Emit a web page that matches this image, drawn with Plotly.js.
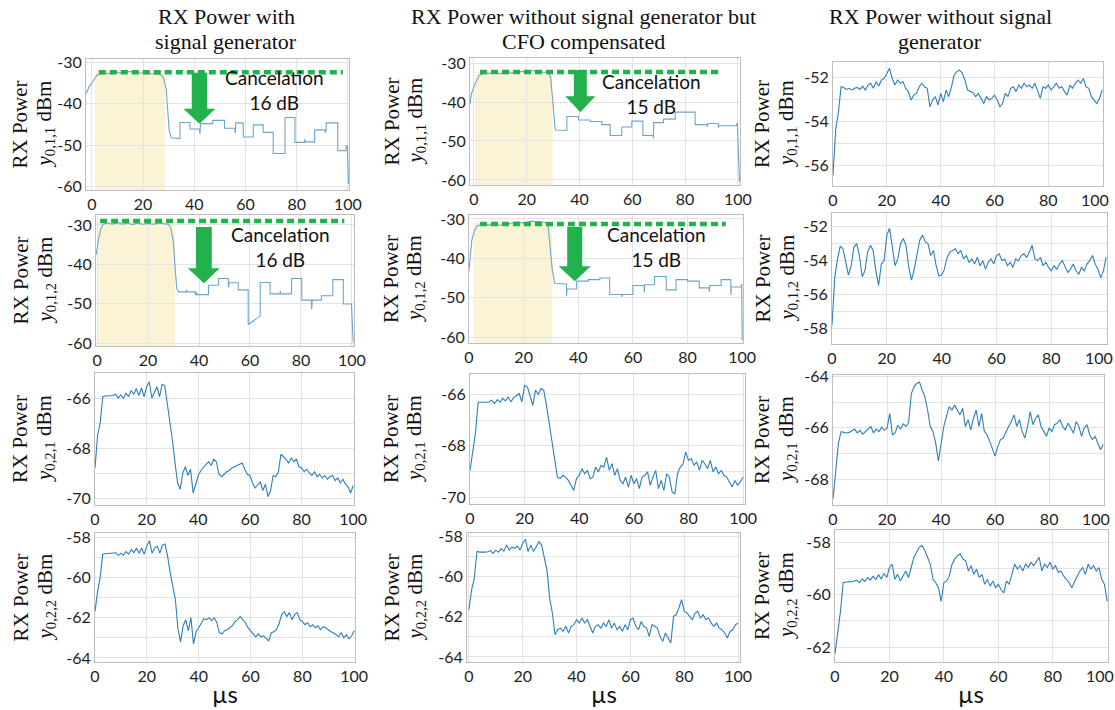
<!DOCTYPE html>
<html><head><meta charset="utf-8">
<script src="https://cdn.plot.ly/plotly-3.0.1.min.js"></script>
<style>html,body{margin:0;padding:0;background:#fff}</style>
</head><body><div id="chart" style="width:1115px;height:710px"></div>
<script>
// ---------- DATA ----------
const colTitleLines = [['RX Power with', 'signal generator'], ['RX Power without signal generator but', 'CFO compensated'], ['RX Power without signal', 'generator']];
const ySubs = ['0,1,1', '0,1,1', '0,1,1', '0,1,2', '0,1,2', '0,1,2', '0,2,1', '0,2,1', '0,2,1', '0,2,2', '0,2,2', '0,2,2'];
const xTicks = [0, 20, 40, 60, 80, 100];
const xTickText = ['0', '20', '40', '60', '80', '100'];
const yTicksTop = [-30, -40, -50, -60];
const yTicks3r1 = [-52, -54, -56];
const yTicks3r2 = [-52, -54, -56, -58];
const yTicksR3 = [-66, -68, -70];
const yTicks3r3 = [-64, -66, -68];
const yTicksR4 = [-58, -60, -62, -64];
const yTicks3r4 = [-58, -60, -62];
const cancelLabels = ['Cancelation<br>16 dB', 'Cancelation<br>15 dB', 'Cancelation<br>16 dB', 'Cancelation<br>15 dB'];

const t = [...Array(101).keys()]; // time axis in µs

// [µs, dBm] pairs, step-like traces (rows 1-2, columns 1-2)
const gen011 = [[-2.3,-37.6],[-1.5,-36.5],[-1,-35.8],[0,-35],[1,-34],[2,-33.1],[3,-32.8],[6,-32.7],[10,-32.6],[13,-32.4],[15,-32.2],[18,-32.5],[22,-32.7],[25,-32.8],[27,-33.0],[28,-33.8],[29,-36.5],[29.6,-41.5],[30.2,-46.5],[31,-48.2],[32.5,-48.3],[34.4,-48.4],[34.4,-44.5],[38.3,-44.5],[38.3,-46.1],[42.0,-46.1],[42.2,-47.3],[42.4,-44.8],[47.2,-44.8],[47.2,-44.0],[51.8,-44.0],[51.8,-45.9],[55.8,-45.9],[56.0,-47.1],[56.2,-44.6],[59.1,-44.6],[59.1,-48.0],[63,-48.0],[63,-45.1],[66.9,-45.1],[66.9,-46.9],[70.8,-46.9],[70.8,-52.0],[75.4,-52.0],[75.4,-43.3],[79.3,-43.3],[79.3,-49.3],[83.0,-49.3],[83.2,-48.6],[83.4,-49.2],[87,-49.2],[87,-46.3],[91.0,-46.3],[91.1,-47.0],[91.5,-46.3],[91.5,-44.6],[96,-44.6],[96,-51.3],[99.2,-51.3],[99.4,-50.2],[99.8,-50.2],[100.2,-59.3]];
const gen012 = [[-0.3,-37.5],[0.5,-34],[1.5,-31],[2.5,-29.8],[4,-29.5],[6,-29.8],[8,-29.4],[10,-29.8],[12,-29.5],[14,-29.9],[16,-29.5],[18,-29.8],[20,-29.6],[22,-29.8],[24,-29.5],[26,-29.7],[28,-29.8],[29,-30.8],[30,-34.5],[30.7,-41.5],[31.3,-46.3],[32,-47.0],[35,-47.0],[35.1,-46.4],[35.3,-47.0],[38.6,-47.0],[38.6,-47.7],[39,-47.7],[39.1,-47.1],[39.3,-47.7],[43.7,-47.7],[43.7,-45.3],[47.7,-45.3],[47.7,-43.6],[51.5,-43.6],[51.5,-44.7],[51.6,-45.9],[51.8,-44.7],[55.4,-44.7],[55.4,-46.5],[59.3,-46.5],[59.3,-55.3],[61,-54.6],[63,-53.6],[64,-53.1],[64,-44.6],[67.9,-44.6],[67.9,-47.5],[71.8,-47.5],[71.9,-46.8],[72.1,-47.5],[76.3,-47.5],[76.3,-43.6],[80.3,-43.6],[80.3,-49.1],[84.1,-49.1],[84.2,-51.4],[84.4,-49.1],[88,-49.1],[88,-48.0],[92.5,-48.0],[92.5,-43.9],[96.6,-43.9],[96.6,-50.1],[99.8,-50.1],[100.5,-59.8]];
const cfo011 = [[-1.5,-40.5],[-1,-38],[0,-36],[1,-34.3],[2,-33.1],[4,-32.6],[8,-32.6],[12,-32.7],[16,-32.4],[19,-32.2],[21,-31.9],[23,-32.0],[25,-32.3],[28,-32.4],[29,-33.5],[29.7,-38.5],[30.3,-44.5],[30.8,-47.2],[35.2,-47.3],[35.2,-43.7],[39.6,-43.7],[39.6,-44.6],[44,-44.6],[44,-45.0],[48.5,-45.0],[48.5,-45.8],[51.6,-45.8],[51.6,-48.6],[56,-48.6],[56,-46.4],[59.8,-46.4],[59.8,-44.9],[64,-44.9],[64,-48.6],[67.9,-48.6],[68,-49.3],[68.1,-45.3],[71.8,-45.3],[71.8,-44.4],[76.3,-44.4],[76.3,-42.6],[83.8,-42.6],[83.8,-45.8],[88.3,-45.8],[88.4,-46.4],[88.5,-45.5],[92.6,-45.5],[92.7,-46.6],[92.8,-46.1],[99.3,-46.1],[99.8,-45.4],[100.6,-60.5]];
const cfo012 = [[0,-43],[0.5,-38],[1,-35.5],[2,-33],[3,-31.7],[6,-31.5],[10,-31.6],[14,-31.4],[17,-30.8],[20,-31.0],[23,-30.6],[26,-30.7],[28,-30.9],[29,-32],[29.7,-37],[30.5,-43],[31.4,-46.4],[35.7,-46.5],[35.7,-49.6],[35.9,-47.8],[39.4,-47.8],[39.4,-45.8],[43.6,-45.8],[43.6,-45.4],[47.9,-45.4],[47.9,-45.0],[51.5,-45.0],[51.5,-49.2],[55.9,-49.2],[56,-49.8],[56.1,-49.2],[60,-49.2],[60,-46.9],[64.1,-46.9],[64.2,-48.7],[64.3,-46.7],[67.9,-46.7],[67.9,-44.6],[72.2,-44.6],[72.2,-48.0],[75.8,-48.0],[75.8,-45.4],[80,-45.4],[80,-45.8],[84.3,-45.8],[84.3,-47.5],[87.9,-47.5],[88,-48.5],[88.1,-46.9],[92.3,-46.9],[92.3,-45.4],[95.8,-45.4],[95.9,-49.3],[96,-47.3],[99.6,-47.3],[99.8,-46.5],[100,-60.8]];

// dBm at t = 0..100 µs (noisy traces)
const gen021 = [-68.8,-67.5,-67.0,-65.95,-65.92,-65.92,-65.91,-65.90,-65.85,-66.00,-65.88,-66.02,-65.80,-65.95,-65.70,-65.85,-65.62,-65.90,-65.60,-65.95,-65.55,-65.35,-66.00,-65.75,-65.55,-65.95,-65.45,-65.50,-66.20,-66.95,-67.70,-68.60,-69.40,-69.65,-69.00,-68.75,-69.10,-68.85,-69.80,-69.45,-69.10,-68.90,-68.75,-68.65,-68.55,-68.70,-68.45,-68.55,-69.05,-69.15,-69.05,-68.95,-68.90,-68.80,-68.75,-68.70,-68.65,-68.60,-68.85,-69.05,-69.10,-69.40,-69.60,-69.45,-69.35,-69.70,-69.45,-69.95,-69.70,-69.10,-69.15,-68.95,-68.25,-68.35,-68.45,-68.60,-68.40,-68.55,-68.45,-68.75,-68.80,-68.95,-68.85,-69.00,-69.10,-68.95,-69.15,-69.05,-69.20,-69.10,-69.25,-69.15,-69.10,-69.30,-69.20,-69.40,-69.25,-69.45,-69.55,-69.80,-69.50];
const gen022 = [-61.7,-60.7,-60.0,-58.85,-58.83,-58.82,-58.82,-58.80,-58.78,-58.92,-58.80,-58.90,-58.72,-58.85,-58.62,-58.78,-58.55,-58.80,-58.55,-58.85,-58.45,-58.18,-58.80,-58.55,-58.45,-58.80,-58.40,-58.35,-58.95,-59.75,-60.40,-61.10,-62.55,-63.20,-62.40,-62.10,-62.65,-62.00,-63.30,-62.70,-62.50,-62.25,-62.05,-62.10,-62.00,-62.15,-62.00,-62.25,-62.75,-62.80,-62.65,-62.60,-62.50,-62.40,-62.20,-62.10,-61.95,-62.10,-62.25,-62.50,-62.65,-62.85,-62.95,-62.80,-62.95,-62.90,-63.05,-63.15,-62.75,-62.70,-62.60,-62.30,-61.85,-61.70,-61.95,-61.75,-62.10,-61.85,-61.75,-62.10,-62.20,-62.35,-62.25,-62.45,-62.35,-62.50,-62.40,-62.60,-62.45,-62.50,-62.60,-62.70,-62.75,-62.85,-62.95,-62.75,-63.00,-62.85,-63.05,-62.90,-62.65];
const cfo021 = [-68.96,-68.20,-67.50,-66.30,-66.31,-66.31,-66.30,-66.28,-66.22,-66.35,-66.20,-66.30,-66.15,-66.25,-66.10,-66.28,-66.12,-66.05,-65.96,-66.29,-65.64,-65.70,-66.09,-66.42,-65.83,-66.00,-65.77,-65.83,-66.42,-67.10,-67.78,-68.57,-69.22,-69.28,-69.15,-69.22,-69.35,-69.54,-69.74,-69.28,-69.15,-68.89,-69.09,-68.96,-69.28,-69.22,-68.83,-69.02,-68.76,-68.83,-68.44,-68.96,-68.70,-69.15,-68.89,-69.35,-69.48,-69.22,-69.61,-69.15,-69.48,-69.28,-69.67,-69.22,-69.15,-69.02,-69.54,-69.22,-68.96,-69.67,-69.35,-69.74,-69.09,-69.22,-69.80,-69.87,-69.09,-68.83,-68.70,-68.24,-68.57,-68.50,-68.76,-68.63,-68.96,-68.57,-68.70,-68.89,-68.57,-69.02,-68.83,-69.09,-68.96,-69.15,-69.22,-69.41,-69.61,-69.35,-69.54,-69.41,-69.22];
const cfo022 = [-61.66,-60.67,-60.10,-58.77,-58.80,-58.81,-58.80,-58.78,-58.72,-58.86,-58.70,-58.80,-58.62,-58.75,-58.45,-58.70,-58.55,-58.61,-58.50,-58.70,-58.36,-58.16,-58.77,-58.45,-58.77,-58.53,-58.28,-58.45,-59.02,-59.68,-61.08,-61.82,-62.90,-62.65,-62.57,-62.73,-62.48,-62.81,-62.48,-62.40,-62.15,-62.32,-62.07,-62.32,-62.15,-62.48,-62.81,-62.48,-62.40,-62.57,-62.32,-62.48,-62.15,-62.57,-62.32,-62.65,-62.48,-62.73,-62.40,-62.65,-62.15,-62.07,-62.48,-62.65,-62.24,-62.48,-62.57,-62.98,-62.40,-62.48,-62.57,-62.98,-63.23,-62.81,-63.06,-63.31,-61.99,-61.91,-61.58,-61.16,-61.74,-61.82,-61.99,-62.15,-61.82,-61.74,-62.07,-61.91,-62.15,-62.07,-62.32,-62.48,-62.32,-62.57,-62.65,-62.81,-63.06,-62.73,-62.65,-62.40,-62.32];
const nogen011 = [-56.46,-54.40,-53.60,-52.43,-52.46,-52.55,-52.50,-52.58,-52.50,-52.46,-52.55,-52.40,-52.58,-52.35,-52.27,-52.50,-52.20,-52.40,-52.12,-52.05,-51.82,-51.59,-52.05,-52.35,-52.12,-52.27,-52.20,-52.50,-52.65,-53.03,-52.81,-52.73,-52.43,-52.27,-52.43,-52.50,-53.34,-53.03,-52.88,-53.26,-52.73,-53.11,-52.58,-52.88,-52.43,-51.89,-51.74,-51.67,-51.79,-52.12,-52.58,-52.65,-52.70,-52.88,-52.73,-52.96,-53.19,-52.88,-53.03,-52.96,-52.81,-53.03,-53.34,-53.19,-52.73,-52.88,-52.50,-52.43,-52.65,-52.35,-52.50,-52.27,-52.43,-52.35,-52.50,-52.27,-52.58,-52.96,-52.43,-52.50,-52.35,-52.58,-52.43,-52.27,-52.50,-52.43,-52.65,-52.81,-52.35,-52.50,-52.27,-52.12,-52.27,-52.05,-52.43,-52.50,-52.88,-53.03,-53.19,-52.96,-52.58];
const nogen012 = [-57.8,-55.0,-53.9,-53.15,-53.3,-54.2,-54.85,-54.3,-53.2,-53.0,-53.7,-54.95,-54.6,-53.5,-53.1,-53.4,-54.6,-55.45,-54.2,-54.0,-52.5,-52.1,-53.1,-54.3,-53.9,-53.0,-52.7,-53.1,-54.4,-55.15,-54.5,-53.6,-52.8,-52.5,-52.9,-53.0,-53.7,-53.4,-54.3,-54.9,-54.85,-54.5,-53.8,-53.5,-53.4,-53.3,-53.6,-53.4,-53.9,-53.7,-54.1,-53.9,-54.2,-53.8,-54.3,-54.0,-54.5,-54.1,-53.9,-54.2,-53.7,-53.6,-54.0,-53.9,-54.3,-54.1,-54.4,-53.9,-54.0,-53.7,-53.6,-53.8,-53.5,-53.1,-53.9,-54.0,-53.8,-54.3,-54.1,-54.4,-54.6,-54.3,-54.5,-54.2,-54.0,-54.4,-54.7,-54.5,-54.2,-54.6,-54.8,-54.4,-54.6,-54.2,-54.0,-53.7,-54.2,-54.5,-55.0,-54.6,-53.8];
const nogen021 = [-68.77,-67.55,-66.60,-66.15,-66.18,-66.20,-66.18,-66.12,-66.05,-66.20,-66.10,-66.25,-66.15,-66.05,-65.95,-66.20,-66.05,-66.15,-65.98,-66.10,-66.02,-65.44,-66.27,-66.20,-65.90,-66.05,-65.85,-65.95,-65.80,-64.67,-64.41,-64.28,-64.22,-64.54,-64.79,-65.31,-65.95,-66.14,-66.59,-67.29,-66.59,-65.95,-65.56,-65.18,-65.31,-65.12,-65.31,-65.50,-65.24,-65.95,-65.69,-66.08,-65.63,-65.31,-65.95,-65.44,-66.14,-66.27,-66.53,-66.78,-67.10,-66.72,-66.46,-66.40,-66.14,-65.95,-65.76,-65.50,-65.95,-65.69,-66.14,-66.40,-65.95,-65.37,-65.88,-65.63,-65.50,-65.95,-66.14,-66.33,-66.01,-66.14,-65.88,-65.82,-65.69,-65.95,-66.08,-65.82,-66.01,-66.21,-65.76,-65.95,-66.33,-66.01,-65.88,-66.27,-66.46,-66.33,-66.59,-66.85,-66.65];
const nogen022 = [-62.26,-61.42,-60.65,-59.55,-59.52,-59.50,-59.52,-59.48,-59.45,-59.55,-59.40,-59.50,-59.35,-59.45,-59.30,-59.42,-59.25,-59.40,-59.20,-59.35,-58.97,-58.84,-59.42,-59.23,-59.48,-59.29,-59.10,-59.35,-58.97,-58.58,-58.39,-58.19,-58.13,-58.32,-58.58,-58.84,-59.42,-59.55,-59.74,-60.26,-59.55,-59.48,-59.29,-58.84,-58.65,-58.52,-58.45,-58.65,-58.71,-59.10,-58.90,-59.23,-59.03,-59.35,-59.23,-59.61,-59.42,-59.68,-59.48,-59.74,-59.61,-59.81,-59.94,-59.48,-59.61,-59.23,-58.84,-59.03,-58.90,-59.10,-58.84,-58.97,-58.77,-58.90,-58.71,-58.58,-59.10,-58.84,-58.97,-58.77,-59.03,-58.90,-59.16,-59.10,-59.29,-59.42,-59.55,-59.74,-59.48,-59.29,-59.10,-58.97,-59.23,-58.84,-59.03,-58.90,-59.10,-58.97,-59.42,-59.61,-60.26];

// ---------- LAYOUT GEOMETRY ----------
const W = 1115, H = 710;
// panels row-major; box = [left,right,top,bottom] px
const panels = [
  {box:[86,349,59,190],  xr:[-2.3,100.4], yr:[-60.8,-29.2], yt:yTicksTop, pairs:gen011},
  {box:[470,740,58,185], xr:[-1.5,100.8], yr:[-61.3,-28.7], yt:yTicksTop, pairs:cfo011},
  {box:[833,1103,62,186],xr:[0,100.3],    yr:[-56.95,-51.3],yt:yTicks3r1, y:nogen011, minor:true, edge:true},
  {box:[96,354,215,346], xr:[-0.4,100.8], yr:[-60.76,-27.46],yt:yTicksTop, pairs:gen012},
  {box:[469,743,215,343],xr:[0,100.3],    yr:[-61.5,-29.0], yt:yTicksTop, pairs:cfo012},
  {box:[832,1107,213,344],xr:[0,100.3],   yr:[-58.9,-51.2], yt:yTicks3r2, y:nogen012, minor:true, edge:true},
  {box:[95,354,373,505], xr:[0,100.3],    yr:[-70.28,-65.0],yt:yTicksR3, y:gen021, minor:true},
  {box:[470,745,374,504],xr:[0,100.7],    yr:[-70.27,-65.2],yt:yTicksR3, y:cfo021, minor:true},
  {box:[833,1104,375,505],xr:[0,100.3],   yr:[-69.0,-63.95],yt:yTicks3r3, y:nogen021, minor:true, edge:true},
  {box:[95,355,533,662], xr:[0,100.3],    yr:[-64.2,-57.8], yt:yTicksR4, y:gen022, minor:true},
  {box:[467,740,533,662],xr:[-0.7,100.7], yr:[-64.25,-57.85],yt:yTicksR4, y:cfo022, minor:true},
  {box:[835,1108,530,662],xr:[0,100.3],   yr:[-62.57,-57.54],yt:yTicks3r4, y:nogen022, minor:true, edge:true}
];
// decorations on the cancellation panels: panel index, shaded span, dotted level, arrow, label
const deco = [
  {p:0, band:[1.2,28.5,-31.9], dot:[2.7,98,-32.4],  arrow:[42.0,3.0,6.25,-32.5,-41.2,-44.8], lab:[71.4,-36.7]},
  {p:3, band:[0.5,30.6,-29.2], dot:[1.2,97,-29.0],  arrow:[41.9,3.1,6.25,-30.5,-41.0,-44.8], lab:[71.8,-35.5]},
  {p:1, band:[0.4,29.8,-32.2], dot:[2.3,93.8,-32.3],arrow:[40.3,2.45,5.65,-31.8,-38.5,-42.6], lab:[67.3,-37.9]},
  {p:4, band:[1.5,30.5,-31.0], dot:[4.0,94,-31.3],  arrow:[38.7,2.75,5.85,-32.0,-42.0,-45.8], lab:[68.8,-37.2]}
];
const labelOrder = [0, 2, 1, 3];

const tickFont = {family:'Lato, "Open Sans", sans-serif', size:16, color:'#1e1e1e'};
const serif = '"Liberation Serif", "Times New Roman", serif';
const green = '#22b14c';

const layout = {width:W, height:H, margin:{l:0,r:0,t:0,b:0}, showlegend:false,
  paper_bgcolor:'#fff', plot_bgcolor:'#fff', annotations:[], shapes:[]};
const data = [];

panels.forEach((P, i) => {
  const k = i + 1, s = k === 1 ? '' : String(k);
  const [l, r, tp, b] = P.box;
  const last = xTickText.length - 1;
  // right-column panels sit at the page edge: their last label is drawn separately, nudged inward
  const xtext = P.edge ? xTickText.map((v, j) => j === last ? '' : v) : xTickText;
  layout['xaxis' + s] = {domain:[l / W, r / W], range:P.xr, anchor:'y' + s,
    tickmode:'array', tickvals:xTicks, ticktext:xtext, tickfont:tickFont,
    showgrid:true, gridcolor:'#e3e3e3', gridwidth:1, zeroline:false,
    showline:true, mirror:true, linecolor:'#bdbdbd', linewidth:1, ticks:'', fixedrange:true};
  if (P.edge) {
    layout.annotations.push({xref:'x' + s, yref:'paper', x:xTicks[last], y:1 - (b + 13) / H, xshift:-7,
      text:xTickText[last], showarrow:false, xanchor:'center', yanchor:'middle', font:tickFont});
  }
  const ya = {domain:[1 - b / H, 1 - tp / H], range:P.yr, anchor:'x' + s,
    tickmode:'array', tickvals:P.yt, ticktext:P.yt.map(v => '-' + Math.abs(v)), tickfont:tickFont,
    showgrid:true, gridcolor:'#e3e3e3', gridwidth:1, zeroline:false,
    showline:true, mirror:true, linecolor:'#bdbdbd', linewidth:1, ticks:'', fixedrange:true};
  if (P.minor) ya.minor = {tickmode:'linear', tick0:0, dtick:1, showgrid:true, gridcolor:'#e3e3e3', ticks:''};
  layout['yaxis' + s] = ya;

  if (P.pairs) {
    data.push({x:P.pairs.map(d => d[0]), y:P.pairs.map(d => d[1]), xaxis:'x' + s, yaxis:'y' + s,
      mode:'lines', line:{color:'#6fa4cb', width:1.1}, hoverinfo:'skip'});
  } else {
    data.push({x:t, y:P.y, xaxis:'x' + s, yaxis:'y' + s,
      mode:'lines', line:{color:'#2f7fb8', width:1.1}, hoverinfo:'skip'});
  }

  const col = i % 3;
  const cy = 1 - ((tp + b) / 2) / H;
  const xRX = [20, 391, 762][col], xY = [45, 415, 787][col];
  layout.annotations.push({xref:'paper', yref:'paper', x:xRX / W, y:cy, text:'RX Power', textangle:-90,
    showarrow:false, xanchor:'center', yanchor:'middle', font:{family:serif, size:21, color:'#111'}});
  layout.annotations.push({xref:'paper', yref:'paper', x:xY / W, y:cy,
    text:'<i>y</i><sub>' + ySubs[i] + '</sub> dBm', textangle:-90,
    showarrow:false, xanchor:'center', yanchor:'middle', font:{family:serif, size:21, color:'#111'}});
});

deco.forEach((D, j) => {
  const P = panels[D.p], s = D.p === 0 ? '' : String(D.p + 1);
  const xr = 'x' + s, yr = 'y' + s;
  layout.shapes.push({type:'rect', xref:xr, yref:yr, x0:D.band[0], x1:D.band[1], y0:P.yr[0], y1:D.band[2],
    fillcolor:'rgb(251,243,213)', line:{width:0}, layer:'below'});
  layout.shapes.push({type:'line', xref:xr, yref:yr, x0:D.dot[0], x1:D.dot[1], y0:D.dot[2], y1:D.dot[2],
    line:{color:green, width:4.5, dash:'7px,4px'}});
  const [cx, sw, hw, yTop, yBase, yTip] = D.arrow;
  layout.shapes.push({type:'path', xref:xr, yref:yr, fillcolor:green, line:{width:0},
    path:`M${cx - sw},${yTop} L${cx + sw},${yTop} L${cx + sw},${yBase} L${cx + hw},${yBase} L${cx},${yTip} L${cx - hw},${yBase} L${cx - sw},${yBase} Z`});
  layout.annotations.push({xref:xr, yref:yr, x:D.lab[0], y:D.lab[1], text:cancelLabels[labelOrder[j]],
    showarrow:false, xanchor:'center', yanchor:'middle', align:'center',
    font:{family:'Lato, "Open Sans", sans-serif', size:19, color:'#111'}});
});

const colCenters = [226, 583, 940];
const titleRows = [17, 41];
colTitleLines.forEach((lines, c) => {
  lines.forEach((txt, r) => {
    layout.annotations.push({xref:'paper', yref:'paper', x:colCenters[c] / W, y:1 - titleRows[r] / H, text:txt,
      showarrow:false, xanchor:'center', yanchor:'middle', align:'center',
      font:{family:serif, size:22, color:'#111'}});
  });
});
const muCenters = [225, 604, 971];
muCenters.forEach(cx => {
  layout.annotations.push({xref:'paper', yref:'paper', x:cx / W, y:1 - 693 / H, text:'µs',
    showarrow:false, xanchor:'center', yanchor:'middle',
    font:{family:'Lato, "Open Sans", sans-serif', size:24, color:'#111'}});
});

Plotly.newPlot('chart', data, layout, {displayModeBar:false, staticPlot:true});
</script>
</body></html>
